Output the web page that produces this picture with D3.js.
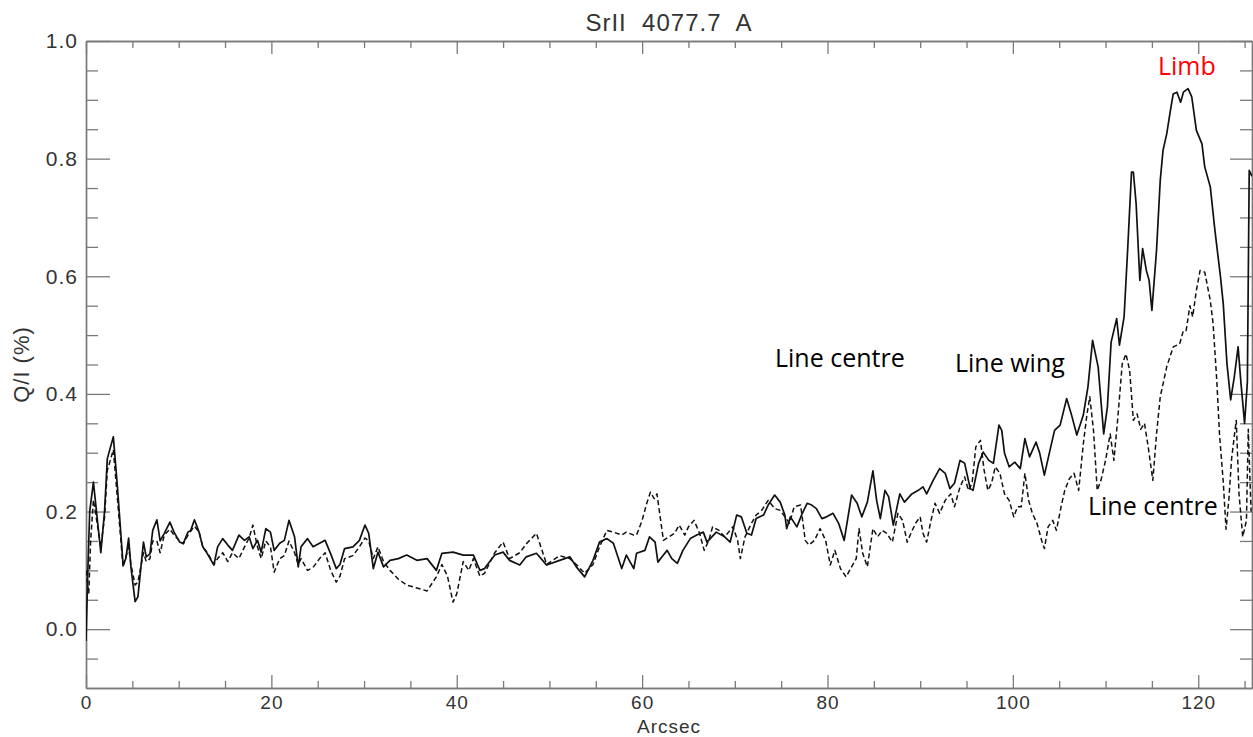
<!DOCTYPE html>
<html>
<head>
<meta charset="utf-8">
<script src="https://cdn.jsdelivr.net/npm/d3@7"></script>
<style>
  html, body { margin: 0; padding: 0; background: #fff; }
  svg { display: block; }
  .lbl { font-family: 'Liberation Sans', Arial, sans-serif; fill: #333; letter-spacing: 1px; }
  .note { font-family: 'Open Sans', sans-serif; font-size: 25px; }
</style>
</head>
<body>
<svg id="chart" width="1253" height="737"></svg>
<script>
const titleText = 'SrII  4077.7  A';
const xLabelText = 'Arcsec';
const yLabelText = 'Q/I (%)';

const xMajorTicks = [0, 20, 40, 60, 80, 100, 120];
const yMajorTicks = [0.0, 0.2, 0.4, 0.6, 0.8, 1.0];

// line wing (solid)
const solidArcsec = [
  0.0, 0.2, 0.4, 0.8, 1.2, 1.6, 2.0, 2.3, 2.95, 3.4, 4.0, 4.3, 4.6, 4.85, 5.3, 5.6, 6.2, 6.5, 6.9, 7.2,
  7.65, 8.0, 8.45, 9.05, 9.5, 10.1, 10.5, 11.0, 11.3, 11.7, 12.2, 12.6, 13.1, 13.8, 14.2, 14.75, 15.3, 15.8, 16.5, 17.1,
  17.6, 18.0, 18.5, 18.9, 19.4, 19.9, 20.3, 20.9, 21.4, 21.9, 22.5, 22.9, 23.2, 23.9, 24.5, 25.2, 25.8, 26.4, 27.0, 27.4,
  27.9, 28.8, 29.5, 30.1, 30.5, 31.0, 31.5, 32.1, 32.8, 33.7, 34.6, 35.7, 36.8, 37.8, 38.4, 39.6, 40.7, 41.8, 42.5, 43.0,
  44.1, 45.0, 45.7, 46.8, 47.5, 48.6, 49.7, 51.1, 52.2, 52.9, 53.8, 54.7, 55.4, 56.2, 56.9, 57.8, 58.3, 59.1, 59.4, 60.3,
  60.8, 61.4, 61.7, 62.3, 62.7, 63.2, 63.8, 64.4, 65.2, 65.9, 66.6, 67.0, 68.0, 68.9, 69.5, 70.2, 70.7, 71.3, 71.8, 72.3,
  73.1, 73.6, 74.3, 74.9, 75.4, 75.6, 76.0, 76.7, 77.2, 77.8, 78.3, 78.8, 79.4, 79.9, 80.6, 81.2, 81.8, 82.6, 83.2, 83.7,
  84.3, 84.9, 85.3, 85.7, 86.2, 86.6, 87.1, 87.8, 88.3, 89.1, 89.8, 90.3, 90.7, 91.4, 92.1, 92.7, 93.2, 93.7, 94.3, 94.8,
  95.4, 95.7, 96.3, 96.8, 97.4, 97.9, 98.5, 98.8, 99.1, 99.6, 100.2, 100.8, 101.3, 101.8, 102.5, 102.9, 103.4, 104.0, 104.5, 105.1,
  105.8, 106.3, 106.9, 107.6, 108.1, 108.6, 109.2, 109.8, 110.2, 110.6, 111.2, 111.5, 112.0, 112.4, 112.8, 113.0, 113.3, 113.7, 114.0, 114.4,
  114.7, 115.0, 115.5, 115.9, 116.2, 116.6, 117.0, 117.3, 117.7, 118.1, 118.4, 118.9, 119.3, 119.8, 120.4, 120.7, 121.3, 121.8, 122.4, 122.7,
  123.1, 123.5, 123.9, 124.3, 124.6, 125.0, 125.3, 125.5, 125.8,
];
const solidQI = [
  -0.02, 0.1, 0.2, 0.25, 0.19, 0.13, 0.2, 0.29, 0.327, 0.24, 0.11, 0.12, 0.155, 0.105, 0.047, 0.055, 0.148, 0.123, 0.128, 0.168,
  0.186, 0.15, 0.163, 0.182, 0.165, 0.148, 0.146, 0.165, 0.168, 0.186, 0.165, 0.14, 0.128, 0.109, 0.14, 0.154, 0.143, 0.134, 0.16, 0.151,
  0.157, 0.137, 0.151, 0.131, 0.171, 0.165, 0.134, 0.146, 0.151, 0.185, 0.157, 0.106, 0.14, 0.154, 0.14, 0.146, 0.151, 0.128, 0.103, 0.11,
  0.137, 0.14, 0.151, 0.177, 0.163, 0.103, 0.131, 0.106, 0.117, 0.12, 0.126, 0.117, 0.12, 0.1, 0.129, 0.131, 0.126, 0.126, 0.1, 0.103,
  0.126, 0.131, 0.117, 0.109, 0.123, 0.129, 0.109, 0.117, 0.123, 0.106, 0.089, 0.117, 0.148, 0.154, 0.146, 0.103, 0.126, 0.103, 0.129, 0.134,
  0.157, 0.148, 0.114, 0.126, 0.134, 0.12, 0.112, 0.134, 0.154, 0.16, 0.165, 0.148, 0.165, 0.157, 0.148, 0.194, 0.191, 0.163, 0.16, 0.188,
  0.194, 0.211, 0.228, 0.216, 0.194, 0.171, 0.191, 0.174, 0.194, 0.214, 0.211, 0.205, 0.188, 0.191, 0.197, 0.18, 0.151, 0.228, 0.214, 0.191,
  0.216, 0.269, 0.219, 0.188, 0.236, 0.225, 0.177, 0.23, 0.216, 0.23, 0.236, 0.242, 0.23, 0.253, 0.273, 0.265, 0.239, 0.248, 0.287, 0.282,
  0.239, 0.236, 0.282, 0.301, 0.287, 0.282, 0.347, 0.338, 0.299, 0.276, 0.284, 0.273, 0.324, 0.293, 0.318, 0.299, 0.262, 0.304, 0.338, 0.347,
  0.392, 0.366, 0.33, 0.364, 0.412, 0.491, 0.446, 0.332, 0.378, 0.488, 0.528, 0.483, 0.531, 0.65, 0.777, 0.777, 0.723, 0.593, 0.647, 0.61,
  0.593, 0.542, 0.644, 0.763, 0.814, 0.842, 0.882, 0.91, 0.913, 0.896, 0.913, 0.919, 0.905, 0.848, 0.825, 0.786, 0.752, 0.678, 0.599, 0.553,
  0.451, 0.39, 0.43, 0.48, 0.42, 0.35, 0.42, 0.78, 0.77,
];

// line centre (dashed)
const dashedArcsec = [
  0.0, 0.3, 0.5, 0.8, 1.2, 1.6, 2.0, 2.3, 2.95, 3.4, 4.0, 4.6, 4.85, 5.3, 5.6, 6.2, 6.5, 6.9, 7.2, 7.65,
  8.0, 8.45, 9.05, 9.5, 10.1, 10.5, 11.0, 11.7, 12.2, 12.6, 13.1, 13.8, 14.2, 14.75, 15.3, 15.8, 16.5, 17.1, 17.6, 18.0,
  18.5, 18.9, 19.4, 19.9, 20.3, 20.9, 21.4, 21.9, 22.5, 22.9, 23.2, 23.9, 24.5, 25.2, 25.8, 26.4, 27.0, 27.4, 27.9, 28.8,
  29.5, 30.1, 30.5, 31.0, 31.5, 32.1, 32.8, 33.7, 34.6, 35.7, 36.8, 37.8, 38.4, 39.0, 39.6, 40.0, 40.7, 41.3, 41.8, 42.5,
  43.0, 44.1, 45.0, 45.7, 46.8, 47.5, 48.6, 49.7, 51.1, 52.2, 52.9, 53.8, 54.7, 55.4, 56.2, 56.9, 57.8, 58.3, 59.1, 59.4,
  60.0, 60.5, 60.9, 61.3, 61.6, 62.0, 62.3, 62.9, 63.5, 64.0, 64.6, 65.0, 65.6, 66.2, 66.7, 67.2, 67.6, 68.3, 68.9, 69.8,
  70.3, 70.6, 71.1, 71.8, 72.3, 72.9, 73.6, 74.3, 74.9, 75.4, 75.9, 76.4, 77.1, 77.6, 78.0, 78.6, 79.2, 79.8, 80.3, 80.8,
  81.4, 82.0, 82.6, 83.1, 83.4, 83.8, 84.3, 84.9, 85.4, 85.9, 86.4, 87.0, 87.6, 88.1, 88.6, 89.0, 89.5, 90.0, 90.3, 90.7,
  91.1, 91.6, 92.1, 92.7, 93.3, 93.7, 94.3, 94.8, 95.2, 95.6, 96.0, 96.5, 96.9, 97.3, 97.7, 98.1, 98.6, 99.1, 99.6, 100.1,
  100.5, 100.9, 101.3, 101.7, 102.1, 102.6, 103.1, 103.4, 103.8, 104.3, 104.7, 105.2, 105.6, 106.1, 106.6, 107.1, 107.6, 108.0, 108.3, 108.7,
  109.1, 109.5, 110.0, 110.5, 110.9, 111.3, 111.8, 112.2, 112.6, 113.0, 113.4, 113.8, 114.2, 114.6, 115.1, 115.5, 115.9, 116.6, 117.3, 118.0,
  118.4, 118.7, 119.1, 119.4, 119.8, 120.2, 120.7, 121.3, 121.6, 122.0, 122.3, 122.7, 123.0, 123.3, 123.6, 124.1, 124.4, 124.8, 125.2, 125.4,
  125.7,
];
const dashedQI = [
  0.1, 0.06, 0.15, 0.22, 0.18, 0.14, 0.19, 0.27, 0.305, 0.22, 0.105, 0.14, 0.11, 0.075, 0.08, 0.13, 0.115, 0.12, 0.15, 0.15,
  0.13, 0.16, 0.17, 0.16, 0.15, 0.145, 0.16, 0.175, 0.165, 0.14, 0.13, 0.11, 0.12, 0.13, 0.115, 0.13, 0.12, 0.14, 0.155, 0.177,
  0.14, 0.12, 0.15, 0.14, 0.097, 0.12, 0.125, 0.15, 0.13, 0.11, 0.12, 0.1, 0.105, 0.12, 0.13, 0.1, 0.08, 0.09, 0.12, 0.125,
  0.14, 0.155, 0.15, 0.12, 0.14, 0.115, 0.1, 0.085, 0.075, 0.07, 0.065, 0.089, 0.11, 0.09, 0.046, 0.06, 0.115, 0.1, 0.12, 0.09,
  0.095, 0.13, 0.148, 0.12, 0.13, 0.145, 0.163, 0.11, 0.125, 0.12, 0.11, 0.095, 0.11, 0.14, 0.168, 0.165, 0.16, 0.165, 0.16, 0.16,
  0.185, 0.214, 0.233, 0.222, 0.23, 0.185, 0.151, 0.157, 0.163, 0.177, 0.16, 0.174, 0.185, 0.163, 0.134, 0.151, 0.174, 0.168, 0.157, 0.174,
  0.151, 0.12, 0.157, 0.18, 0.194, 0.202, 0.219, 0.205, 0.202, 0.191, 0.18, 0.208, 0.211, 0.151, 0.143, 0.151, 0.171, 0.151, 0.109, 0.134,
  0.103, 0.089, 0.106, 0.12, 0.171, 0.129, 0.106, 0.171, 0.157, 0.168, 0.163, 0.148, 0.197, 0.185, 0.148, 0.163, 0.18, 0.191, 0.163, 0.148,
  0.18, 0.214, 0.197, 0.219, 0.23, 0.208, 0.242, 0.259, 0.236, 0.248, 0.31, 0.321, 0.27, 0.236, 0.248, 0.276, 0.265, 0.23, 0.219, 0.191,
  0.208, 0.208, 0.265, 0.219, 0.197, 0.18, 0.151, 0.137, 0.174, 0.185, 0.168, 0.208, 0.236, 0.256, 0.265, 0.236, 0.315, 0.366, 0.395, 0.338,
  0.236, 0.253, 0.287, 0.332, 0.287, 0.355, 0.451, 0.468, 0.44, 0.355, 0.366, 0.34, 0.35, 0.31, 0.253, 0.332, 0.395, 0.446, 0.48, 0.485,
  0.508, 0.508, 0.55, 0.531, 0.576, 0.61, 0.607, 0.559, 0.52, 0.423, 0.33, 0.25, 0.17, 0.22, 0.29, 0.355, 0.23, 0.157, 0.185, 0.34,
  0.2,
];

const annotations = [
  { text: 'Line centre', x: 775, y: 367, color: '#000' },
  { text: 'Line wing', x: 955, y: 372, color: '#000' },
  { text: 'Limb', x: 1158, y: 75, color: '#ff0000' },
  { text: 'Line centre', x: 1088, y: 515, color: '#000' },
];

const svg = d3.select('#chart');
const plot = { left: 86, right: 1252, top: 41, bottom: 688 };
const axisColour = '#7a7a7a';

const x = d3.scaleLinear().domain([0, 125.8]).range([plot.left, plot.right]);
const y = d3.scaleLinear().domain([-0.1, 1.0]).range([plot.bottom, plot.top]);

const xMinor = d3.range(0, 126, 5).filter((v) => !xMajorTicks.includes(v));
const yMinor = d3.range(-0.05, 1.0, 0.05)
  .map((v) => +v.toFixed(2))
  .filter((v) => !yMajorTicks.some((m) => Math.abs(m - v) < 1e-6));

function styleAxis(g) {
  g.select('.domain').attr('stroke', axisColour).attr('stroke-width', 1.4);
  g.selectAll('.tick line').attr('stroke', axisColour).attr('stroke-width', 1.3);
  g.selectAll('.tick text')
    .attr('class', 'lbl')
    .attr('fill', '#333')
    .style('font-family', "'Liberation Sans', Arial, sans-serif");
}

// bottom axis: major + minor
svg.append('g')
  .attr('transform', `translate(0,${plot.bottom})`)
  .call(d3.axisBottom(x).tickValues(xMajorTicks).tickSize(-13).tickSizeOuter(0).tickPadding(8).tickFormat(d3.format('d')))
  .call(styleAxis)
  .call((g) => g.selectAll('.tick text').style('font-size', '19px'));
svg.append('g')
  .attr('transform', `translate(0,${plot.bottom})`)
  .call(d3.axisBottom(x).tickValues(xMinor).tickSize(-7).tickSizeOuter(0).tickFormat(''))
  .call(styleAxis);

// top axis
svg.append('g')
  .attr('transform', `translate(0,${plot.top})`)
  .call(d3.axisTop(x).tickValues(xMajorTicks).tickSize(-13).tickSizeOuter(0).tickFormat(''))
  .call(styleAxis);
svg.append('g')
  .attr('transform', `translate(0,${plot.top})`)
  .call(d3.axisTop(x).tickValues(xMinor).tickSize(-7).tickSizeOuter(0).tickFormat(''))
  .call(styleAxis);

// left axis
svg.append('g')
  .attr('transform', `translate(${plot.left},0)`)
  .call(d3.axisLeft(y).tickValues(yMajorTicks).tickSize(-24).tickSizeOuter(0).tickFormat(d3.format('.1f')))
  .call(styleAxis)
  .call((g) => g.selectAll('.tick text').style('font-size', '21px').attr('x', -8));
svg.append('g')
  .attr('transform', `translate(${plot.left},0)`)
  .call(d3.axisLeft(y).tickValues(yMinor).tickSize(-12).tickSizeOuter(0).tickFormat(''))
  .call(styleAxis);

// right axis
svg.append('g')
  .attr('transform', `translate(${plot.right},0)`)
  .call(d3.axisRight(y).tickValues(yMajorTicks).tickSize(-22).tickSizeOuter(0).tickFormat(''))
  .call(styleAxis);
svg.append('g')
  .attr('transform', `translate(${plot.right},0)`)
  .call(d3.axisRight(y).tickValues(yMinor).tickSize(-12).tickSizeOuter(0).tickFormat(''))
  .call(styleAxis);

svg.append('clipPath')
  .attr('id', 'plot-clip')
  .append('rect')
  .attr('x', plot.left)
  .attr('y', plot.top)
  .attr('width', plot.right - plot.left)
  .attr('height', plot.bottom - plot.top);

const line = d3.line()
  .x((d) => x(d[0]))
  .y((d) => y(d[1]));

const series = [
  { xs: dashedArcsec, ys: dashedQI, dash: '5,3', width: 1.5 },
  { xs: solidArcsec, ys: solidQI, dash: null, width: 1.7 },
];

series.forEach((s) => {
  svg.append('path')
    .datum(d3.zip(s.xs, s.ys))
    .attr('clip-path', 'url(#plot-clip)')
    .attr('fill', 'none')
    .attr('stroke', '#111')
    .attr('stroke-width', s.width)
    .attr('stroke-linejoin', 'round')
    .attr('stroke-dasharray', s.dash)
    .attr('d', line);
});

svg.append('text')
  .attr('class', 'lbl')
  .attr('x', (plot.left + plot.right) / 2)
  .attr('y', 31)
  .attr('text-anchor', 'middle')
  .style('font-size', '24px')
  .style('white-space', 'pre')
  .text(titleText);

svg.append('text')
  .attr('class', 'lbl')
  .attr('x', (plot.left + plot.right) / 2)
  .attr('y', 733)
  .attr('text-anchor', 'middle')
  .style('font-size', '19px')
  .text(xLabelText);

svg.append('text')
  .attr('class', 'lbl')
  .attr('transform', `translate(29,${(plot.top + plot.bottom) / 2}) rotate(-90)`)
  .attr('text-anchor', 'middle')
  .style('font-size', '22px')
  .text(yLabelText);

svg.selectAll('text.note')
  .data(annotations)
  .join('text')
  .attr('class', 'note')
  .attr('x', (d) => d.x)
  .attr('y', (d) => d.y)
  .attr('fill', (d) => d.color)
  .text((d) => d.text);
</script>
</body>
</html>
